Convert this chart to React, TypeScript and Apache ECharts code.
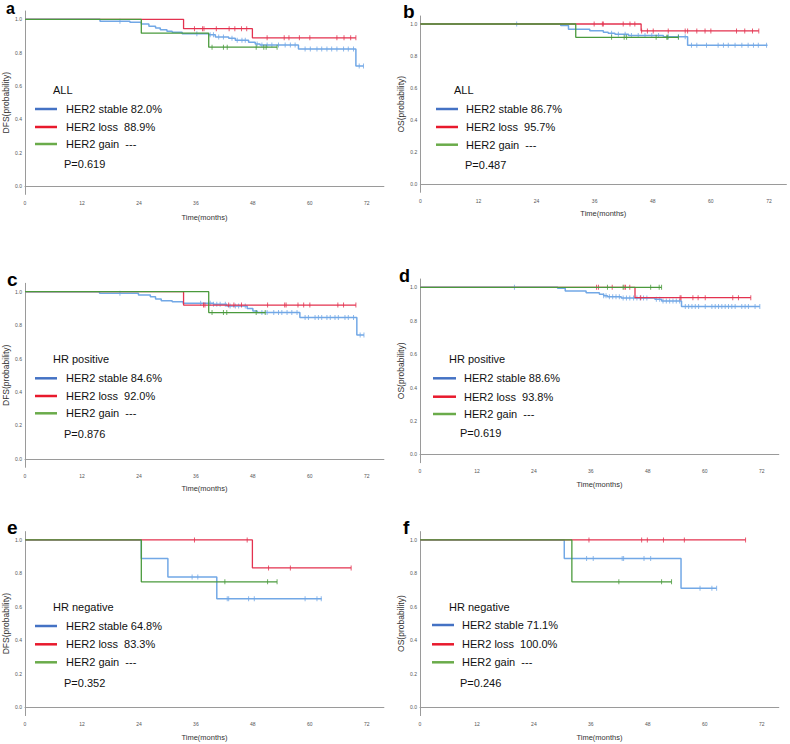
import React, { useEffect, useRef } from 'react';
import * as echarts from 'echarts';

// ---------- data ----------
const timeTicks = [0, 12, 24, 36, 48, 60, 72];
const probTicks = [0, 0.2, 0.4, 0.6, 0.8, 1.0];

const aStable = [[0, 1], [15.8, 0.988], [22.1, 0.982], [24.5, 0.972], [26.1, 0.958], [27.5, 0.948], [28.5, 0.938], [29.9, 0.928], [31.0, 0.922], [33.1, 0.914], [38.7, 0.908], [40.1, 0.894], [42.9, 0.886], [44.3, 0.874], [47.1, 0.862], [48.5, 0.852], [49.5, 0.846], [57.6, 0.822], [69.7, 0.72], [71.3, 0.72]];
const aStableCensor = [20.0, 36.2, 39.0, 39.7, 40.8, 41.8, 43.6, 44.7, 45.7, 46.4, 48.9, 49.9, 51.0, 52.0, 53.4, 54.8, 55.9, 56.9, 59.0, 60.1, 61.5, 62.5, 63.6, 64.6, 65.7, 67.1, 68.1, 69.2, 70.4, 71.3];
const aLoss = [[0, 1], [33.4, 0.944], [47.9, 0.889], [69.7, 0.889]];
const aLossCensor = [35.7, 37.4, 37.7, 40.3, 43.0, 44.2, 45.6, 46.7, 51.0, 54.6, 55.6, 57.8, 60.0, 65.7, 67.2, 68.6, 69.7];
const aGain = [[0, 1], [24.5, 0.917], [38.7, 0.833], [53.1, 0.833]];
const aGainCensor = [39.4, 41.8, 42.6, 48.7, 50.3, 50.8, 53.1];

const bStable = [[0, 1], [29.0, 0.99], [30.6, 0.967], [35.0, 0.958], [37.8, 0.948], [38.8, 0.942], [40.2, 0.936], [43.0, 0.928], [50.2, 0.92], [55.2, 0.867], [71.7, 0.867]];
const bStableCensor = [19.9, 39.5, 40.9, 42.3, 43.6, 45.0, 46.4, 47.8, 49.2, 51.2, 53.3, 54.7, 56.0, 57.1, 59.1, 61.5, 62.6, 63.6, 65.0, 66.4, 67.7, 68.8, 69.8, 71.5];
const bLoss = [[0, 1], [45.6, 0.957], [69.9, 0.957]];
const bLossCensor = [35.9, 37.6, 37.8, 41.9, 43.3, 44.3, 45.7, 46.9, 48.1, 51.2, 54.7, 55.2, 57.1, 58.8, 60.0, 65.3, 67.0, 68.6, 69.9];
const bGain = [[0, 1], [32.1, 0.917], [53.3, 0.917]];
const bGainCensor = [39.5, 42.1, 42.6, 48.7, 50.9, 51.1, 53.3];

const cStable = [[0, 1], [15.7, 0.99], [23.9, 0.98], [26.4, 0.97], [27.5, 0.956], [28.7, 0.946], [31.0, 0.94], [33.3, 0.93], [39.7, 0.925], [42.5, 0.915], [46.8, 0.9], [48.0, 0.885], [48.9, 0.875], [57.9, 0.846], [69.9, 0.741], [71.4, 0.741]];
const cStableCensor = [20.0, 37.0, 39.0, 39.7, 40.4, 41.1, 42.2, 43.2, 44.3, 45.0, 46.4, 49.9, 51.0, 52.4, 53.4, 54.1, 55.2, 56.2, 57.3, 59.0, 59.7, 61.1, 61.8, 62.5, 63.6, 64.3, 65.3, 66.0, 67.4, 68.1, 69.2, 70.6, 71.4];
const cLoss = [[0, 1], [33.4, 0.92], [69.7, 0.92]];
const cLossCensor = [37.6, 37.9, 42.9, 44.0, 45.6, 51.1, 54.7, 55.0, 57.5, 58.7, 60.0, 65.9, 67.1, 69.7];
const cGain = [[0, 1], [38.7, 0.875], [50.6, 0.875]];
const cGainCensor = [39.4, 41.8, 42.5, 48.7, 50.6];

const dStable = [[0, 1], [29.0, 0.994], [30.6, 0.978], [35.0, 0.968], [37.8, 0.958], [38.7, 0.949], [39.5, 0.944], [42.4, 0.936], [49.5, 0.928], [50.9, 0.918], [55.1, 0.886], [71.6, 0.886]];
const dStableCensor = [19.9, 38.7, 39.2, 39.9, 40.6, 41.3, 42.0, 42.8, 43.5, 44.2, 45.0, 45.7, 46.4, 47.1, 47.8, 49.8, 50.5, 51.2, 51.9, 52.6, 53.3, 54.0, 54.7, 55.9, 56.6, 57.3, 58.0, 58.7, 60.1, 61.5, 62.2, 62.9, 63.6, 64.3, 65.0, 65.7, 66.4, 67.8, 68.5, 69.2, 70.6, 71.6];
const dLoss = [[0, 1], [45.3, 0.938], [69.7, 0.938]];
const dLossCensor = [37.2, 37.6, 40.5, 43.0, 43.3, 44.2, 46.5, 54.8, 55.0, 57.5, 58.6, 60.1, 65.9, 67.1, 69.7];
const dGain = [[0, 1], [50.9, 1]];
const dGainCensor = [39.5, 42.8, 48.6, 50.4, 50.9];

const eStable = [[0, 1], [24.5, 0.889], [30.1, 0.778], [40.4, 0.648], [62.5, 0.648]];
const eStableCensor = [35.2, 36.4, 42.6, 42.9, 47.1, 48.3, 59.0, 61.5, 62.4];
const eLoss = [[0, 1], [47.9, 0.833], [68.7, 0.833]];
const eLossCensor = [35.7, 46.8, 51.3, 55.9, 68.7];
const eGain = [[0, 1], [24.5, 0.75], [53.1, 0.75]];
const eGainCensor = [42.1, 51.1, 53.1];

const fStable = [[0, 1], [30.4, 0.889], [55.0, 0.711], [62.5, 0.711]];
const fStableCensor = [35.1, 36.5, 42.6, 42.9, 47.2, 48.6, 59.0, 61.5, 62.5];
const fLoss = [[0, 1], [68.6, 1]];
const fLossCensor = [35.6, 46.7, 47.9, 51.3, 55.7, 68.6];
const fGain = [[0, 1], [32.0, 0.75], [53.0, 0.75]];
const fGainCensor = [41.9, 50.9, 53.0];

const panelLetters = ['a', 'b', 'c', 'd', 'e', 'f'];
const panelYNames = ['DFS(probability)', 'OS(probability)', 'DFS(probability)', 'OS(probability)', 'DFS(probability)', 'OS(probability)'];
const xAxisName = 'Time(months)';
const panelGroups = ['ALL', 'ALL', 'HR positive', 'HR positive', 'HR negative', 'HR negative'];
const seriesNames = ['HER2 stable', 'HER2 loss', 'HER2 gain'];
const stableRates = ['82.0%', '86.7%', '84.6%', '88.6%', '64.8%', '71.1%'];
const lossRates = ['88.9%', '95.7%', '92.0%', '93.8%', '83.3%', '100.0%'];
const gainRates = ['---', '---', '---', '---', '---', '---'];
const pValues = ['0.619', '0.487', '0.876', '0.619', '0.352', '0.246'];

const panelCurves = [
  [[aStable, aStableCensor], [aLoss, aLossCensor], [aGain, aGainCensor]],
  [[bStable, bStableCensor], [bLoss, bLossCensor], [bGain, bGainCensor]],
  [[cStable, cStableCensor], [cLoss, cLossCensor], [cGain, cGainCensor]],
  [[dStable, dStableCensor], [dLoss, dLossCensor], [dGain, dGainCensor]],
  [[eStable, eStableCensor], [eLoss, eLossCensor], [eGain, eGainCensor]],
  [[fStable, fStableCensor], [fLoss, fLossCensor], [fGain, fGainCensor]],
];

// ---------- layout / style ----------
const FONT = '"Liberation Sans", Arial, Helvetica, sans-serif';
const curveColors = ['#72a8e6', '#e3324f', '#4a9a3c'];
const legendColors = ['#4472c4', '#e8192c', '#6aab4a'];

const grids = [
  { left: 24.3, top: 11, width: 359.6, height: 183.4 },
  { left: 420.3, top: 16, width: 366.1, height: 176.3 },
  { left: 24.3, top: 283.3, width: 359.6, height: 184 },
  { left: 420, top: 279, width: 358.8, height: 183.7 },
  { left: 24.3, top: 531.6, width: 359.6, height: 184 },
  { left: 420, top: 531.6, width: 358.8, height: 184 },
];
const xNameGaps = [19, 17, 17, 18, 18, 18];
const letterPos = [
  { x: 6, y: 8, size: 16 }, { x: 403, y: 11.6, size: 19 }, { x: 7, y: 279.3, size: 19 },
  { x: 399, y: 275.8, size: 18 }, { x: 7, y: 527.3, size: 19 }, { x: 403, y: 527.3, size: 19 },
];
const legendPos = [
  { tx: 53, ty: 90, l1: 35, l2: 57, textX: 66, rows: [109, 127, 144], px: 64, py: 164 },
  { tx: 454, ty: 90, l1: 436, l2: 458, textX: 466, rows: [109, 127, 144.7], px: 465, py: 165 },
  { tx: 53, ty: 359, l1: 35, l2: 57, textX: 66, rows: [378.3, 396, 413.3], px: 64, py: 434 },
  { tx: 449, ty: 359, l1: 433, l2: 456, textX: 464, rows: [378.3, 396.7, 414], px: 460, py: 433.3 },
  { tx: 53, ty: 607.3, l1: 35, l2: 57, textX: 66, rows: [626, 644.3, 662.3], px: 64, py: 682.7 },
  { tx: 449, ty: 607.3, l1: 432, l2: 454, textX: 462, rows: [625, 644.3, 662.3], px: 460, py: 682.7 },
];

function survAt(steps: number[][], t: number): number {
  let v = steps[0][1];
  for (const [st, sv] of steps) {
    if (st <= t + 1e-9) v = sv;
  }
  return v;
}

function buildOption() {
  const xAxes: any[] = [];
  const yAxes: any[] = [];
  const series: any[] = [];
  const graphic: any[] = [];

  grids.forEach((g, i) => {
    xAxes.push({
      gridIndex: i,
      type: 'value',
      min: 0,
      max: 75.6,
      interval: 12,
      name: xAxisName,
      nameLocation: 'middle',
      nameGap: xNameGaps[i],
      nameTextStyle: { fontSize: 7.5, color: '#333', fontFamily: FONT },
      axisLine: { show: true, lineStyle: { color: '#9a9a9a', width: 1 } },
      axisTick: { show: false },
      splitLine: { show: false },
      axisLabel: {
        fontSize: 5,
        color: '#555',
        margin: 6,
        fontFamily: FONT,
        formatter: (v: number) => (timeTicks.indexOf(Math.round(v * 1000) / 1000) >= 0 ? String(v) : ''),
      },
    });
    yAxes.push({
      gridIndex: i,
      type: 'value',
      min: -0.05,
      max: 1.05,
      interval: 0.05,
      name: panelYNames[i],
      nameLocation: 'middle',
      nameGap: 15,
      nameTextStyle: { fontSize: 8.5, color: '#333', fontFamily: FONT },
      axisLine: { show: true, lineStyle: { color: '#9a9a9a', width: 1 } },
      axisTick: { show: false },
      splitLine: { show: false },
      axisLabel: {
        fontSize: 5,
        color: '#555',
        margin: 3,
        fontFamily: FONT,
        formatter: (v: number) => {
          const r = Math.round(v * 100) / 100;
          return probTicks.some((p) => Math.abs(p - r) < 1e-6) ? r.toFixed(1) : '';
        },
      },
    });

    panelCurves[i].forEach(([steps, censors], k) => {
      series.push({
        type: 'line',
        name: seriesNames[k],
        xAxisIndex: i,
        yAxisIndex: i,
        data: steps,
        step: 'end',
        symbol: 'none',
        silent: true,
        lineStyle: { color: curveColors[k], width: k === 0 ? 1.5 : 1.3 },
        z: 2 + k,
      });
      series.push({
        type: 'scatter',
        name: seriesNames[k] + ' censored',
        xAxisIndex: i,
        yAxisIndex: i,
        data: (censors as number[]).map((t) => [t, survAt(steps as number[][], t)]),
        symbol: 'rect',
        symbolSize: [1, 5],
        silent: true,
        itemStyle: { color: curveColors[k] },
        z: 2 + k,
      });
    });

    const lp = letterPos[i];
    graphic.push({
      type: 'text',
      x: lp.x,
      y: lp.y,
      style: { text: panelLetters[i], font: `bold ${lp.size}px ${FONT}`, fill: '#000', textAlign: 'left', textVerticalAlign: 'middle' },
    });
    const L = legendPos[i];
    graphic.push({
      type: 'text', x: L.tx, y: L.ty,
      style: { text: panelGroups[i], font: `11px ${FONT}`, fill: '#111', textAlign: 'left', textVerticalAlign: 'middle' },
    });
    const labels = [
      `${seriesNames[0]} ${stableRates[i]}`,
      `${seriesNames[1]}  ${lossRates[i]}`,
      `${seriesNames[2]}  ${gainRates[i]}`,
    ];
    labels.forEach((txt, k) => {
      graphic.push({
        type: 'line',
        shape: { x1: L.l1, y1: L.rows[k], x2: L.l2, y2: L.rows[k] },
        style: { stroke: legendColors[k], lineWidth: 2.5 },
      });
      graphic.push({
        type: 'text', x: L.textX, y: L.rows[k],
        style: { text: txt, font: `11px ${FONT}`, fill: '#111', textAlign: 'left', textVerticalAlign: 'middle' },
      });
    });
    graphic.push({
      type: 'text', x: L.px, y: L.py,
      style: { text: `P=${pValues[i]}`, font: `11px ${FONT}`, fill: '#111', textAlign: 'left', textVerticalAlign: 'middle' },
    });
  });

  return {
    animation: false,
    backgroundColor: '#ffffff',
    textStyle: { fontFamily: FONT },
    grid: grids.map((g) => ({ ...g, containLabel: false })),
    xAxis: xAxes,
    yAxis: yAxes,
    series,
    graphic,
  };
}

export default function App() {
  const ref = useRef<HTMLDivElement>(null);
  useEffect(() => {
    if (!ref.current) return;
    const chart = echarts.init(ref.current, undefined, { renderer: 'svg' });
    chart.setOption(buildOption() as any);
    return () => chart.dispose();
  }, []);
  return (
    <div
      ref={ref}
      style={{ position: 'absolute', left: 0, top: 0, width: 790, height: 744, background: '#fff' }}
    />
  );
}
